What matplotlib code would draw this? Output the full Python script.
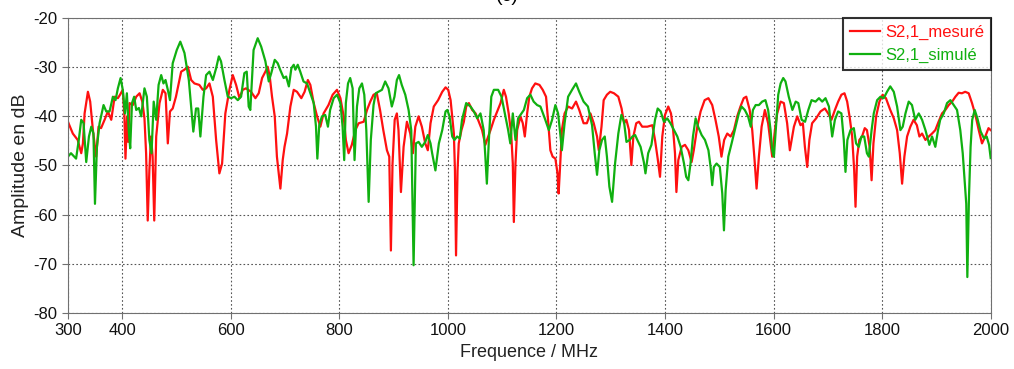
import numpy as np
import matplotlib
matplotlib.use('Agg')
import matplotlib.pyplot as plt

plt.rcParams['font.family'] = ['Liberation Sans', 'DejaVu Sans']
plt.rcParams['axes.unicode_minus'] = False

# S2,1 mesuré (MHz, dB)
freq_mes = [300, 309, 318, 324.5, 327.6, 330.7, 336.8, 341, 346, 352, 356.4, 361, 367.5, 373.6, 379.8,
            386, 392, 396, 401, 404, 406, 409, 411, 413.5, 419.6, 425.8, 432, 437, 441, 444, 447,
            450, 453, 456, 459, 462.6, 468.7, 474.8, 479.8, 484, 488, 493, 499, 508.6, 514.7, 520.9,
            527, 533, 542, 548.5, 554.6, 560.7, 566.9, 573, 579, 584, 590, 597.5, 603.7, 609.8, 616,
            622, 628, 637.4, 645.4, 651.5, 657.7, 663.8, 668, 671.8, 676, 681, 685, 691.4, 695.7,
            699, 703.7, 709.8, 716, 722, 730, 736, 742, 746.6, 752.8, 759, 765, 771, 780, 787.7,
            795.7, 802, 808, 812, 817, 823, 829.4, 835.6, 844.8, 851, 857, 863, 869, 875, 881,
            887.7, 892, 895, 898, 902, 906, 909, 913.5, 918.4, 924.5, 930.7, 935.6, 940, 946, 952,
            958.3, 963, 968, 974, 982, 989.6, 995.7, 1000.6, 1005, 1008, 1011, 1013, 1015, 1017.8,
            1020, 1025, 1029.4, 1033.7, 1038.7, 1044.8, 1051, 1057, 1063, 1069, 1072, 1078.5,
            1084.7, 1090.8, 1097, 1103, 1107, 1112, 1116.6, 1119.6, 1121.5, 1124.5, 1127.6, 1133.7,
            1138, 1141.7, 1146, 1150, 1155, 1161, 1168.7, 1174.7, 1180.8, 1184.5, 1188.8, 1193,
            1198, 1202, 1204, 1207, 1210, 1215, 1221.5, 1228.8, 1236, 1242, 1250, 1256, 1262.6,
            1268.7, 1274.8, 1278, 1283, 1287, 1293, 1299, 1306, 1314, 1320, 1324.5, 1328.8, 1333.7,
            1338, 1341.7, 1347, 1352, 1358, 1367.5, 1376.7, 1381.6, 1386.5, 1390.8, 1395, 1400,
            1406, 1411, 1415, 1418.4, 1421, 1424.5, 1430.7, 1436.8, 1443, 1449, 1453, 1459.5,
            1465.6, 1473, 1480, 1487, 1493, 1499, 1504, 1509, 1514.7, 1520.9, 1527, 1533, 1539,
            1545, 1549.7, 1556, 1560.7, 1565, 1568.7, 1573, 1578, 1584, 1590, 1594.5, 1597.5,
            1602.5, 1606.7, 1613, 1619, 1625, 1630, 1637.5, 1643.6, 1649.7, 1654, 1657.7, 1662,
            1666, 1671, 1678.5, 1686.5, 1694.5, 1700.6, 1706.7, 1713, 1719, 1725, 1730.7, 1735.6,
            1740.5, 1744.8, 1748.5, 1751, 1754, 1758, 1763, 1768, 1772, 1777, 1780.6, 1784, 1789,
            1795, 1801, 1807, 1815, 1821.5, 1827.6, 1832.5, 1836.8, 1841, 1846, 1852, 1858, 1864,
            1868.7, 1873.6, 1879.8, 1886, 1892, 1898, 1904, 1910.4, 1916.5, 1922.7, 1929, 1935,
            1941, 1947, 1953, 1959.5, 1965.6, 1971.8, 1978, 1984, 1990, 1996, 2000]
s21_mes = [-41.1, -43.5, -44.8, -47.5, -45.5, -39.4, -35, -37, -42.8, -48.2, -42.1, -42.4, -40.7, -39, -40.7,
           -36, -36.3, -35.6, -34.6, -39.7, -48.6, -40, -45.2, -37.3, -37.7, -36, -35.3, -37, -40.4, -47.5, -61.2,
           -51, -44.1, -48.2, -61.2, -44.1, -37.3, -34.6, -35.3, -45.5, -39, -38.4, -36, -30.9, -30.5, -29.9,
           -32.6, -33.3, -33.6, -34.6, -34.3, -33.3, -36, -44.8, -51.6, -49.6, -39.4, -34.6, -31.6, -33.6, -36.3,
           -34.6, -34.3, -35, -36.3, -35.3, -32.2, -30.9, -29.9, -31.9, -36, -40, -48.2, -54.7, -48.9,
           -46.2, -43.5, -38, -34.6, -35, -36.3, -35, -32.6, -33.6, -37.3, -40, -42.1, -39.4, -37.7, -35.6,
           -34.6, -36.3, -40, -44.8, -47.5, -45.8, -42.8, -41.4, -41.1, -38.7, -37, -35.6, -35.3, -38.7, -42.8,
           -46.9, -48.2, -67.3, -49.6, -40.7, -39.4, -42.8, -55.4, -46.2, -41.1, -43.5, -47.5, -42.1, -40, -42.1,
           -45.5, -46.9, -41.4, -38, -36.7, -35, -34.1, -34.6, -36.7, -40, -43.5, -51, -68.3, -51,
           -45.5, -42.8, -41.1, -38, -37.3, -38.7, -39.4, -41.1, -42.8, -45.8, -44.8, -42.8,
           -40.7, -39, -37.3, -34.6, -36, -39.4, -43.5, -49.6, -61.5, -49.6, -42.8, -40,
           -41.4, -44.1, -39.4, -36, -34.3, -33.3, -33.6, -34.6, -36, -40.7, -46.9, -48.2,
           -48.6, -51.6, -55.7, -49.6, -42.8, -39.4, -38, -38.4, -37, -38.7, -41.4, -41.4, -39.4,
           -41.4, -44.1, -46.9, -42.1, -36.7, -35.6, -35, -35.3, -36, -38.4, -41.4, -40.7, -42.8,
           -49.9, -44.1, -41.4, -41.1, -42.1, -42.1, -41.8, -44.8, -48.6, -52.3, -44.1, -39.7,
           -38, -39.4, -42.8, -47.5, -55.4, -48.9, -46.2, -45.8, -46.9, -49.3, -46.9, -42.1,
           -39, -36.7, -36.3, -37.7, -40.7, -44.1, -48.2, -44.8, -43.5, -44.1, -42.8, -40, -38,
           -36.3, -36, -38.7, -42.8, -48.9, -54.7, -48.2, -42.1, -38.7, -41.4, -45.5, -48.2,
           -42.8, -39.4, -37, -37.3, -41.4, -46.9, -42.1, -40, -41.8, -41.4, -46.2, -50.3,
           -44.8, -41.4, -40.4, -39, -38.4, -39.4, -40.7, -38.7, -37, -35.6, -35.3, -37,
           -40.4, -44.1, -50.9, -58.4, -48.2, -44.8, -44.1, -42.4, -42.8, -46.2, -53, -45.5, -40,
           -37, -35.6, -36.3, -38.7, -40.4, -42.8, -47.5, -53.7, -48.2, -44.1, -42.1, -40.7, -41.8,
           -44.1, -43.5, -44.8, -44.1, -43.5, -42.8, -41.1, -39.4, -38.7, -37.7, -37, -36,
           -35.2, -35.3, -35, -35.3, -37.3, -39.7, -42.8, -45.5, -44.1, -42.4, -42.8]

# S2,1 simulé (MHz, dB)
freq_sim = [300, 305.6, 315, 320, 324.5, 328.8, 333.7, 338.7, 343, 347, 349.8, 353.4, 358.3, 365.6, 370.6,
            376.7, 382.8, 387.7, 392, 397, 401, 405, 408.6, 412, 414.7, 418, 422, 425.8, 430.7, 435,
            441, 445.4, 450, 454, 458, 462.6, 467, 471.8, 476, 479.8, 484, 488, 493, 500.5, 507,
            514.7, 522.7, 527.6, 531, 536, 540, 544, 549.7, 554.6, 560.7, 567, 573, 578, 582, 588.3,
            594.5, 600.6, 606.7, 612.9, 619, 625, 629.4, 633, 636, 642, 649.6, 656, 663.8, 670,
            674.6, 681, 686.5, 691, 697.5, 702, 707, 711.7, 716, 719, 723.4, 728, 734, 740.5, 746.6,
            752.8, 757, 759.5, 763, 768, 774, 779, 783, 789.6, 795.7, 802, 806, 809, 812, 816, 820,
            824.5, 828, 832.5, 836.8, 841.7, 846, 849.7, 854, 858, 863, 867, 872, 878.5, 884.5,
            890.6, 896.7, 901.6, 906, 910, 915, 921.5, 927.6, 932.5, 936.8, 941, 946, 952, 958.3,
            963, 968, 971, 977, 983.4, 989.6, 995.7, 999, 1003, 1008, 1012, 1017, 1022, 1026, 1033.7,
            1041.7, 1047.9, 1054, 1060, 1066, 1069, 1071.8, 1075.5, 1080, 1084.7, 1092.6, 1098.8,
            1105, 1111, 1115, 1119.6, 1124.5, 1129.4, 1133.7, 1140, 1146, 1152, 1158, 1164.4,
            1170.5, 1178.5, 1186, 1192, 1198, 1203, 1207, 1210, 1215, 1221.5, 1228.8, 1236, 1242,
            1250, 1258, 1265.6, 1270.5, 1274.8, 1279, 1284, 1289, 1293, 1297.5, 1302.5, 1308, 1314,
            1319.6, 1324.5, 1329, 1335, 1340, 1345, 1349, 1355, 1361, 1364, 1369, 1375, 1381.6,
            1386.5, 1392, 1398, 1404, 1410, 1416.6, 1422.7, 1428.8, 1435, 1439, 1443, 1447, 1451.5,
            1456.4, 1461, 1467.5, 1473.6, 1480, 1484, 1487, 1490, 1495, 1501, 1505.5, 1508.6,
            1511.7, 1516.6, 1522.7, 1530, 1536, 1541, 1547, 1553, 1558, 1562, 1567, 1573, 1579,
            1585, 1590, 1594.5, 1597.5, 1600.6, 1605, 1608.6, 1613, 1617.8, 1622, 1628, 1634.7,
            1640.8, 1645.6, 1651.7, 1658, 1664, 1670, 1677.3, 1683.6, 1689.6, 1695.7, 1702, 1708,
            1713, 1719, 1725, 1729.4, 1732.5, 1736, 1741.7, 1747.9, 1752, 1757, 1762, 1767, 1772,
            1775.5, 1780.6, 1784.6, 1790.8, 1797, 1803, 1809, 1815, 1821.5, 1827.6, 1833.7, 1838,
            1843, 1849, 1855, 1861, 1867.5, 1873.6, 1879.8, 1887, 1892, 1898, 1903, 1907, 1913.5,
            1919.6, 1925.8, 1932, 1938, 1944, 1948.5, 1952, 1955, 1957, 1960, 1963, 1966, 1970.6,
            1975.5, 1981.6, 1987.7, 1992.6, 1997, 2000]
s21_sim = [-48.2, -47.5, -48.6, -44.8, -40.7, -41.4, -49.3, -44.1, -42.1, -43.5, -57.8, -46.2, -41.4, -37.7, -39,
           -39, -36, -36.7, -34.3, -32.2, -34.6, -39.4, -35.3, -42.8, -46.5, -37.3, -36, -38.7, -38.3, -40,
           -34.3, -36, -44.8, -47.5, -37, -40.7, -33.6, -31.6, -33.3, -32.6, -34.6, -36.7, -29.2, -26.5, -24.8,
           -27.1, -32.6, -38.7, -43.1, -38.4, -38.4, -44.1, -36, -31.6, -30.9, -32.6, -30.2, -27.8, -28.8, -32.6,
           -36, -36.3, -36, -36.7, -36, -31.2, -30.9, -38, -38.7, -26.5, -24.1, -25.8, -28.8, -32.9,
           -31.2, -28.5, -29.2, -30.5, -32.2, -31.9, -33.9, -30.2, -29.5, -30.5, -29.5, -30.9, -32.9, -33.3, -35.3,
           -37.3, -42.1, -48.6, -41.8, -40, -39.7, -42.1, -38.7, -36.3, -35.6, -37.3, -42.1, -48.9, -37.3, -33.3, -32.2,
           -34.3, -48.9, -38, -34.3, -33.3, -35.6, -42.8, -57.4, -44.8, -37.7, -35.3, -35, -34.6, -32.9,
           -34.3, -38, -36, -32.6, -31.6, -33.6, -35.6, -38.7, -42.8, -70.3, -45.5, -45.2, -46.2, -45.2,
           -43.8, -45.5, -47.5, -51, -45.5, -42.8, -39, -38.7, -40, -44.1, -44.8, -44.1, -44.5, -40.7, -37.3,
           -38, -39, -40.4, -39.4, -42.8, -48.2, -53.7, -44.8, -36, -34.6, -34.6, -36,
           -39.4, -42.8, -45.5, -39.4, -44.8, -40.4, -39.7, -38.7, -36.3, -35.6, -37, -37.7,
           -38, -40.4, -42.8, -40.7, -37.7, -39.4, -43.5, -46.9, -41.4, -36, -34.6, -33.3, -35,
           -37, -38, -41.8, -47.5, -51.9, -46.9, -44.8, -44.1, -48.2, -54.3, -57.4, -49.6, -43.5,
           -39.7, -41.1, -45.2, -44.8, -44.1, -43.8, -44.8, -46.2, -49.3, -51.6, -47.5, -45.8, -40.7,
           -38.4, -39, -41.1, -40.4, -41.4, -42.8, -44.1, -46.2, -49.6, -52.3, -53, -49.6, -44.1,
           -40.4, -42.1, -43.8, -44.8, -46.9, -50.3, -54, -50.3, -49.6, -50.3, -55.7, -63.2,
           -55, -48.2, -45.5, -42.1, -39.4, -38, -38.7, -40, -42.1, -38.7, -37.7, -37.7, -37,
           -36.7, -38.7, -42.8, -46.9, -48.2, -41.4, -35.6, -33.3, -32.2, -32.9, -36, -38.7,
           -37, -37.3, -40.7, -41.1, -38.7, -36.7, -37, -36.3, -37, -36.3, -38, -44.1,
           -40.7, -39, -39.4, -44.8, -51.3, -44.8, -42.8, -42.4, -45.5, -46.2, -44.1, -44.1, -47.5,
           -48.2, -42.8, -39.4, -36.7, -36, -36.3, -35, -33.9, -35, -38, -42.8, -42.1,
           -39.4, -37, -37.7, -40.7, -39.4, -40.7, -42.8, -45.8, -44.1, -46.2, -42.8, -40.7, -39.4,
           -37.3, -36.7, -37.7, -38.7, -42.8, -47.5, -53, -57.8, -72.7, -56.4, -46.2, -40.7, -38.7,
           -40.4, -43.1, -44.5, -44.1, -45.8, -48.5]

fig = plt.figure(figsize=(10.14, 3.69), dpi=100)
ax = fig.add_axes([0.067, 0.152, 0.910, 0.799])

ax.plot(freq_mes, s21_mes, color='#ff1010', lw=1.6, label='S2,1_mesuré')
ax.plot(freq_sim, s21_sim, color='#10b010', lw=1.6, label='S2,1_simulé')

ax.set_xlim(300, 2000)
ax.set_ylim(-80, -20)
ax.set_xticks([300, 400, 600, 800, 1000, 1200, 1400, 1600, 1800, 2000])
ax.set_yticks(np.arange(-80, -19, 10))
ax.grid(True, linestyle=(0, (1.5, 2)), color='#555555', lw=0.8)

for sp in ax.spines.values():
    sp.set_color('#707070')
ax.tick_params(direction='out', length=4, color='#707070', labelsize=12, labelcolor='#111111')

ax.set_xlabel('Frequence / MHz', fontsize=13, color='#222222', labelpad=4)
ax.set_ylabel('Amplitude en dB', fontsize=14, color='#222222', labelpad=3)

leg = ax.legend(loc='upper right', borderaxespad=0, fancybox=False, fontsize=12,
                handlelength=1.8, handletextpad=0.3, labelcolor='linecolor')
leg.get_frame().set_edgecolor('black')
leg.get_frame().set_linewidth(1.5)

# sub-figure tag, sitting at the very top edge
fig.text(0.5, 1.01, '(c)', ha='center', va='center', fontsize=14)

fig.savefig('out.png', dpi=100, facecolor='white')
